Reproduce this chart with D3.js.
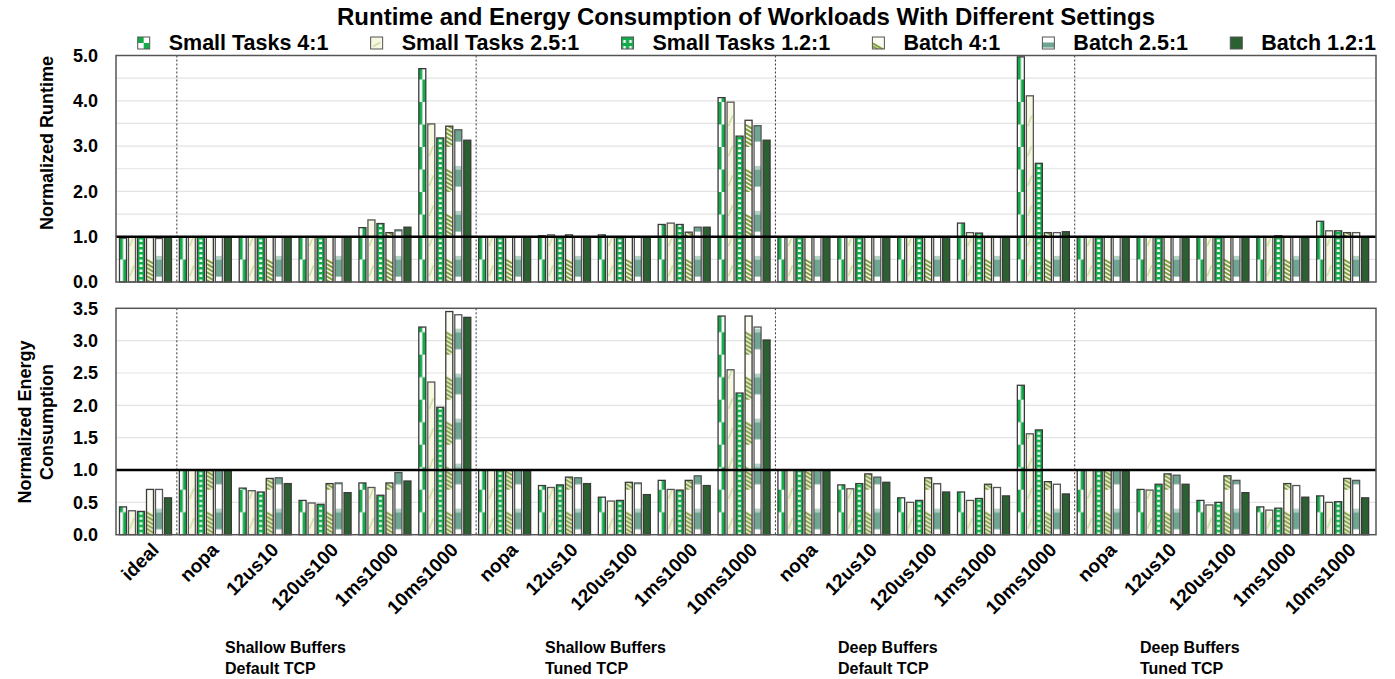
<!DOCTYPE html>
<html>
<head>
<meta charset="utf-8">
<script src="https://cdn.jsdelivr.net/npm/d3@7"></script>
<style>
  body { margin: 0; background: #fff; }
  text { font-family: "Liberation Sans", Arial, sans-serif; font-weight: bold; fill: #000; }
</style>
</head>
<body>
<svg id="chart" width="1395" height="679"></svg>
<script>
// ---- data ----
const categories = ["ideal",
  "nopa", "12us10", "120us100", "1ms1000", "10ms1000",
  "nopa", "12us10", "120us100", "1ms1000", "10ms1000",
  "nopa", "12us10", "120us100", "1ms1000", "10ms1000",
  "nopa", "12us10", "120us100", "1ms1000", "10ms1000"];
const groupLabels = [
  ["Shallow Buffers", "Default TCP"],
  ["Shallow Buffers", "Tuned TCP"],
  ["Deep Buffers", "Default TCP"],
  ["Deep Buffers", "Tuned TCP"]];
const seriesNames = ["Small Tasks 4:1", "Small Tasks 2.5:1", "Small Tasks 1.2:1",
  "Batch 4:1", "Batch 2.5:1", "Batch 1.2:1"];

const runtimeST4  = [0.97, 1.0, 1.0, 1.0, 1.20, 4.71, 1.0, 1.02, 1.04, 1.27, 4.07, 1.0, 1.0, 1.0, 1.30, 4.97, 1.0, 1.0, 1.0, 1.0, 1.34];
const runtimeST25 = [1.0, 1.0, 1.0, 1.0, 1.37, 3.49, 1.0, 1.04, 1.0, 1.30, 3.97, 1.0, 1.0, 1.0, 1.09, 4.11, 1.0, 1.0, 1.0, 1.0, 1.13];
const runtimeST12 = [1.0, 1.0, 1.0, 1.0, 1.29, 3.18, 1.0, 1.0, 0.98, 1.27, 3.22, 1.0, 1.0, 0.98, 1.08, 2.62, 1.0, 1.0, 1.0, 1.02, 1.13];
const runtimeB4   = [0.98, 1.0, 1.0, 1.0, 1.09, 3.44, 1.0, 1.04, 1.0, 1.10, 3.57, 1.0, 1.0, 1.0, 0.99, 1.09, 1.0, 1.0, 1.0, 1.0, 1.09];
const runtimeB25  = [0.96, 1.0, 1.0, 0.99, 1.15, 3.36, 1.0, 1.0, 1.0, 1.21, 3.45, 1.0, 1.0, 1.0, 0.99, 1.09, 1.0, 1.0, 1.0, 1.0, 1.09];
const runtimeB12  = [1.0, 1.0, 1.0, 1.0, 1.21, 3.13, 1.0, 1.0, 1.0, 1.21, 3.13, 1.0, 1.0, 1.0, 1.0, 1.11, 1.0, 1.0, 1.0, 1.0, 1.0];

const energyST4  = [0.43, 1.0, 0.72, 0.53, 0.80, 3.21, 1.0, 0.76, 0.58, 0.84, 3.38, 1.0, 0.77, 0.57, 0.66, 2.31, 1.0, 0.70, 0.53, 0.43, 0.60];
const energyST25 = [0.37, 1.0, 0.68, 0.49, 0.73, 2.36, 1.0, 0.73, 0.52, 0.70, 2.55, 1.0, 0.71, 0.50, 0.53, 1.56, 1.0, 0.69, 0.46, 0.38, 0.50];
const energyST12 = [0.36, 1.0, 0.66, 0.47, 0.61, 1.97, 1.0, 0.77, 0.53, 0.69, 2.19, 1.0, 0.79, 0.53, 0.56, 1.62, 1.0, 0.78, 0.50, 0.41, 0.51];
const energyB4   = [0.70, 1.0, 0.87, 0.79, 0.80, 3.45, 1.0, 0.89, 0.81, 0.84, 3.38, 1.0, 0.94, 0.88, 0.78, 0.82, 1.0, 0.94, 0.91, 0.79, 0.87];
const energyB25  = [0.70, 1.0, 0.88, 0.80, 0.96, 3.40, 1.0, 0.88, 0.80, 0.91, 3.21, 1.0, 0.89, 0.79, 0.73, 0.78, 1.0, 0.92, 0.84, 0.76, 0.84];
const energyB12  = [0.57, 1.0, 0.79, 0.65, 0.83, 3.36, 1.0, 0.79, 0.62, 0.76, 3.01, 1.0, 0.81, 0.66, 0.60, 0.63, 1.0, 0.78, 0.65, 0.58, 0.57];

const runtimeTicks = [0, 1, 2, 3, 4, 5];
const energyTicks = [0, 0.5, 1, 1.5, 2, 2.5, 3, 3.5];

const runtimeSeries = [runtimeST4, runtimeST25, runtimeST12, runtimeB4, runtimeB25, runtimeB12];
const energySeries = [energyST4, energyST25, energyST12, energyB4, energyB25, energyB12];

// ---- layout ----
const svg = d3.select("#chart");
const plotL = 116, plotR = 1376;

const x0 = d3.scaleBand().domain(d3.range(categories.length)).range([117, 1374]);
const x1 = d3.scaleBand().domain(d3.range(seriesNames.length)).range([2.5, 54.5]).paddingInner(2 / 9);
const bw = x1.bandwidth();

const panels = [
  { series: runtimeSeries, ticks: runtimeTicks, y: d3.scaleLinear().domain([0, 5]).range([282, 55.5]),
    fmt: d3.format(".1f"), title: ["Normalized Runtime"], titleY: 143, titleX: [53] },
  { series: energySeries, ticks: energyTicks, y: d3.scaleLinear().domain([0, 3.5]).range([534.7, 308.3]),
    fmt: d3.format(".1f"), title: ["Normalized Energy", "Consumption"], titleY: 422, titleX: [31, 53] }
];

// ---- patterns ----
const defs = svg.append("defs");
const green = "#12ad49", cream = "#f8f7e2", olive = "#7e9f3a", teal = "#6ea692", dark = "#2b6131";

function addPattern(id, kind, w, h) {
  const p = defs.append("pattern").attr("id", id)
    .attr("patternUnits", "userSpaceOnUse").attr("width", w).attr("height", h);
  if (kind === 0) {
    p.append("rect").attr("width", w).attr("height", h).attr("fill", "#fff");
    p.append("rect").attr("width", w / 2).attr("height", h / 2).attr("fill", green);
    p.append("rect").attr("x", w / 2).attr("y", h / 2).attr("width", w / 2).attr("height", h / 2).attr("fill", green);
  } else if (kind === 1) {
    p.append("rect").attr("width", w).attr("height", h).attr("fill", cream);
    p.append("line").attr("x1", w * 0.2).attr("y1", h * 0.8).attr("x2", w * 0.8).attr("y2", h * 0.45)
      .attr("stroke", "#c4dd9c").attr("stroke-width", 1.4);
  } else if (kind === 2) {
    p.append("rect").attr("width", w).attr("height", h).attr("fill", "#fff");
    p.append("rect").attr("width", w).attr("height", h * 0.5).attr("fill", green);
    p.append("rect").attr("width", w * 0.3).attr("height", h).attr("fill", green);
    p.append("rect").attr("x", w * 0.7).attr("width", w * 0.3).attr("height", h).attr("fill", green);
  } else if (kind === 3) {
    p.append("rect").attr("width", w).attr("height", h).attr("fill", "#fbfbf1");
    for (let yy = h * 0.5; yy < h; yy += Math.max(3, h / 11)) {
      p.append("line").attr("x1", 0).attr("y1", yy).attr("x2", w).attr("y2", yy + w * 0.6)
        .attr("stroke", olive).attr("stroke-width", 2);
    }
  } else if (kind === 4) {
    p.append("rect").attr("width", w).attr("height", h).attr("fill", "#fff");
    p.append("rect").attr("y", h * 0.42).attr("width", w).attr("height", h * 0.08).attr("fill", "#b3d1c4");
    p.append("rect").attr("y", h * 0.5).attr("width", w).attr("height", h * 0.38).attr("fill", teal);
  } else {
    p.append("rect").attr("width", w).attr("height", h).attr("fill", dark);
  }
}
const barTileH = [45, 30, 5, 45, 45, 10];
seriesNames.forEach((s, k) => {
  addPattern("bar" + k, k, bw, barTileH[k]);
  addPattern("leg" + k, k, k === 2 ? 6 : 12, k === 2 ? 6 : 12);
});

// ---- title ----
svg.append("text").attr("x", 746).attr("y", 25).attr("text-anchor", "middle")
  .style("font-size", "24px").text("Runtime and Energy Consumption of Workloads With Different Settings");

// ---- legend (spread so the last entry ends at the frame's right edge) ----
const legStart = 137.7, legEnd = plotR, iconGap = 31;
const legTexts = seriesNames.map(s => svg.append("text").attr("y", 50).style("font-size", "21.5px").text(s));
const legWidths = legTexts.map(t => t.node().getComputedTextLength());
const itemGap = (legEnd - legStart - d3.sum(legWidths) - iconGap * seriesNames.length) / (seriesNames.length - 1);
let lx = legStart;
seriesNames.forEach((s, k) => {
  const g = svg.append("g").attr("transform", "translate(" + lx + ",37)");
  g.append("rect").attr("width", 12).attr("height", 12)
    .attr("fill", "url(#leg" + k + ")").attr("stroke", "#555").attr("stroke-width", 1);
  legTexts[k].attr("x", lx + iconGap);
  lx = lx + iconGap + legWidths[k] + itemGap;
});

// ---- panels ----
panels.forEach(pn => {
  const y = pn.y;
  const top = y.range()[1], bot = y.range()[0];
  const g = svg.append("g");

  // gridlines every 0.5
  const grid = d3.range(0.5, y.domain()[1], 0.5);
  g.selectAll(".grid").data(grid).enter().append("line")
    .attr("x1", plotL).attr("x2", plotR)
    .attr("y1", d => y(d)).attr("y2", d => y(d))
    .attr("stroke", "#e3e3e3").attr("stroke-width", 1.2);

  // group dividers
  g.selectAll(".div").data([1, 6, 11, 16]).enter().append("line")
    .attr("x1", d => x0(d)).attr("x2", d => x0(d))
    .attr("y1", top).attr("y2", bot)
    .attr("stroke", "#333").attr("stroke-width", 1).attr("stroke-dasharray", "2,2");

  // bars
  pn.series.forEach((vals, k) => {
    g.selectAll(".bar" + k).data(vals).enter().append("g")
      .attr("transform", (d, i) => "translate(" + (x0(i) + x1(k)) + "," + y(0) + ")")
      .append("rect")
      .attr("x", 0).attr("width", bw)
      .attr("y", d => y(d) - y(0))
      .attr("height", d => y(0) - y(d))
      .attr("fill", "url(#bar" + k + ")")
      .attr("stroke", k === 1 || k === 4 ? "#555" : "#3a3a3a").attr("stroke-width", 1.3);
  });

  // reference line at 1.0
  g.append("line").attr("x1", plotL).attr("x2", plotR)
    .attr("y1", y(1)).attr("y2", y(1))
    .attr("stroke", "#000").attr("stroke-width", 2.5);

  // frame
  g.append("rect").attr("x", plotL).attr("y", top)
    .attr("width", plotR - plotL).attr("height", bot - top)
    .attr("fill", "none").attr("stroke", "#555").attr("stroke-width", 1.5);

  // y ticks
  g.selectAll(".tick").data(pn.ticks).enter().append("text")
    .attr("x", 98).attr("y", d => y(d)).attr("dy", "0.35em")
    .attr("text-anchor", "end").style("font-size", "18px")
    .text(d => pn.fmt(d));

  // y title
  pn.title.forEach((line, j) => {
    svg.append("text")
      .attr("transform", "translate(" + pn.titleX[j] + "," + pn.titleY + ") rotate(-90)")
      .attr("text-anchor", "middle").style("font-size", "18px").text(line);
  });
});

// ---- x labels ----
svg.selectAll(".xl").data(categories).enter().append("text")
  .attr("transform", (d, i) => "translate(" + (x0(i) + x0.bandwidth() / 2 + 13) + ",551) rotate(-45)")
  .attr("text-anchor", "end").style("font-size", "19px").text(d => d);

// ---- group labels ----
const groupX = [225, 545, 838, 1140];
groupLabels.forEach((lines, gi) => {
  lines.forEach((line, j) => {
    svg.append("text").attr("x", groupX[gi]).attr("y", 653 + j * 21)
      .style("font-size", "16px").text(line);
  });
});
</script>
</body>
</html>
